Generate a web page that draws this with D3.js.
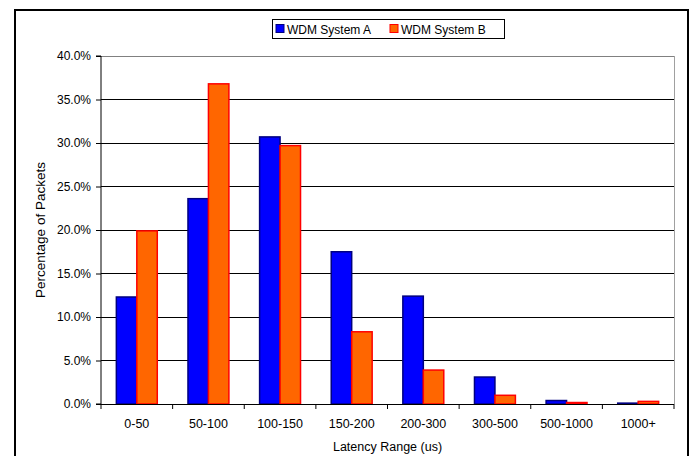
<!DOCTYPE html>
<html>
<head>
<meta charset="utf-8">
<script src="https://cdn.jsdelivr.net/npm/d3@7"></script>
<style>
  html, body { margin: 0; padding: 0; background: #fff; }
  svg { display: block; font-family: "Liberation Sans", Arial, sans-serif; }
</style>
</head>
<body>
<svg id="chart" width="692" height="456"></svg>
<script>
// Latency distribution per range, percentage of packets
const categories = ["0-50", "50-100", "100-150", "150-200", "200-300", "300-500", "500-1000", "1000+"];
const systemA = [12.3, 23.6, 30.7, 17.5, 12.4, 3.1, 0.4, 0.1];
const systemB = [19.9, 36.8, 29.7, 8.3, 3.9, 1.0, 0.17, 0.3];
const seriesNames = ["WDM System A", "WDM System B"];
const yTicks = [0, 5, 10, 15, 20, 25, 30, 35, 40];

const series = [
  { name: seriesNames[0], values: systemA, fill: "#0000ff", stroke: "#000080" },
  { name: seriesNames[1], values: systemB, fill: "#ff6600", stroke: "#ff0000" }
];

const svg = d3.select("#chart");
const plot = { left: 101, right: 674, top: 56, bottom: 404 };

// Outer frame (open at the bottom)
svg.append("path")
  .attr("d", `M15,456 V10 H688 V456`)
  .attr("fill", "none").attr("stroke", "#000").attr("stroke-width", 2);

const x = d3.scaleBand().domain(categories)
  .range([plot.left, plot.right]).paddingInner(0).paddingOuter(0);
const bw = x.bandwidth() / 3.5;        // two bars plus a 150% gap
const y = d3.scaleLinear().domain([0, 40]).range([plot.bottom, plot.top]);

// Horizontal gridlines
svg.append("g").selectAll("line").data(yTicks.filter(d => d > 0)).join("line")
  .attr("x1", plot.left).attr("x2", plot.right)
  .attr("y1", d => y(d)).attr("y2", d => y(d))
  .attr("stroke", d => d === 40 ? "#808080" : "#000").attr("stroke-width", 1)
  .attr("shape-rendering", "crispEdges");

// Right border of plot area
svg.append("line")
  .attr("x1", plot.right).attr("x2", plot.right)
  .attr("y1", plot.top).attr("y2", plot.bottom)
  .attr("stroke", "#a0a0a0").attr("shape-rendering", "crispEdges");

// Bars
series.forEach((s, i) => {
  svg.append("g").selectAll("rect").data(s.values).join("rect")
    .attr("x", (d, j) => x(categories[j]) + bw * 0.75 + i * bw)
    .attr("y", d => y(d))
    .attr("width", bw)
    .attr("height", d => y(0) - y(d))
    .attr("fill", s.fill)
    .attr("stroke", s.stroke)
    .attr("stroke-width", 1.5);
});

// Y axis
const yAxis = d3.axisLeft(y).tickValues(yTicks)
  .tickFormat(d => d.toFixed(1) + "%").tickSize(5).tickPadding(5);
const gy = svg.append("g").attr("transform", `translate(${plot.left},0)`).call(yAxis);
gy.select(".domain").attr("stroke", "#000").attr("d", `M-5,${plot.top}H0V${plot.bottom}H-5`);
gy.selectAll("text").attr("font-size", 12).attr("fill", "#000")
  .attr("font-family", "Liberation Sans, Arial, sans-serif");

// X axis: ticks on category boundaries
const gx = svg.append("g").attr("transform", `translate(0,${plot.bottom})`);
gx.append("line").attr("x1", plot.left).attr("x2", plot.right)
  .attr("stroke", "#000").attr("shape-rendering", "crispEdges");
const bounds = categories.map(c => x(c)).concat([plot.right]);
gx.selectAll("line.tk").data(bounds).join("line").attr("class", "tk")
  .attr("x1", d => d).attr("x2", d => d).attr("y1", 0).attr("y2", 5)
  .attr("stroke", "#000");
gx.selectAll("text").data(categories).join("text")
  .attr("x", d => x(d) + x.bandwidth() / 2).attr("y", 24)
  .attr("text-anchor", "middle").attr("font-size", 12.5).text(d => d);

// Axis titles
svg.append("text")
  .attr("x", (plot.left + plot.right) / 2).attr("y", 451)
  .attr("text-anchor", "middle").attr("font-size", 12.5).text("Latency Range (us)");
svg.append("text")
  .attr("transform", `translate(45,${(plot.top + plot.bottom) / 2}) rotate(-90)`)
  .attr("text-anchor", "middle").attr("font-size", 13.5).text("Percentage of Packets");

// Legend
const lg = svg.append("g");
lg.append("rect").attr("x", 272.5).attr("y", 19.5).attr("width", 232).attr("height", 19)
  .attr("fill", "#fff").attr("stroke", "#000").attr("stroke-width", 1);
const legendX = [276, 390];
series.forEach((s, i) => {
  lg.append("rect").attr("x", legendX[i]).attr("y", 24.5).attr("width", 8).attr("height", 8)
    .attr("fill", s.fill).attr("stroke", s.stroke).attr("stroke-width", 1);
  lg.append("text").attr("x", legendX[i] + 11).attr("y", 33.5)
    .attr("font-size", 12).text(s.name);
});
</script>
</body>
</html>
